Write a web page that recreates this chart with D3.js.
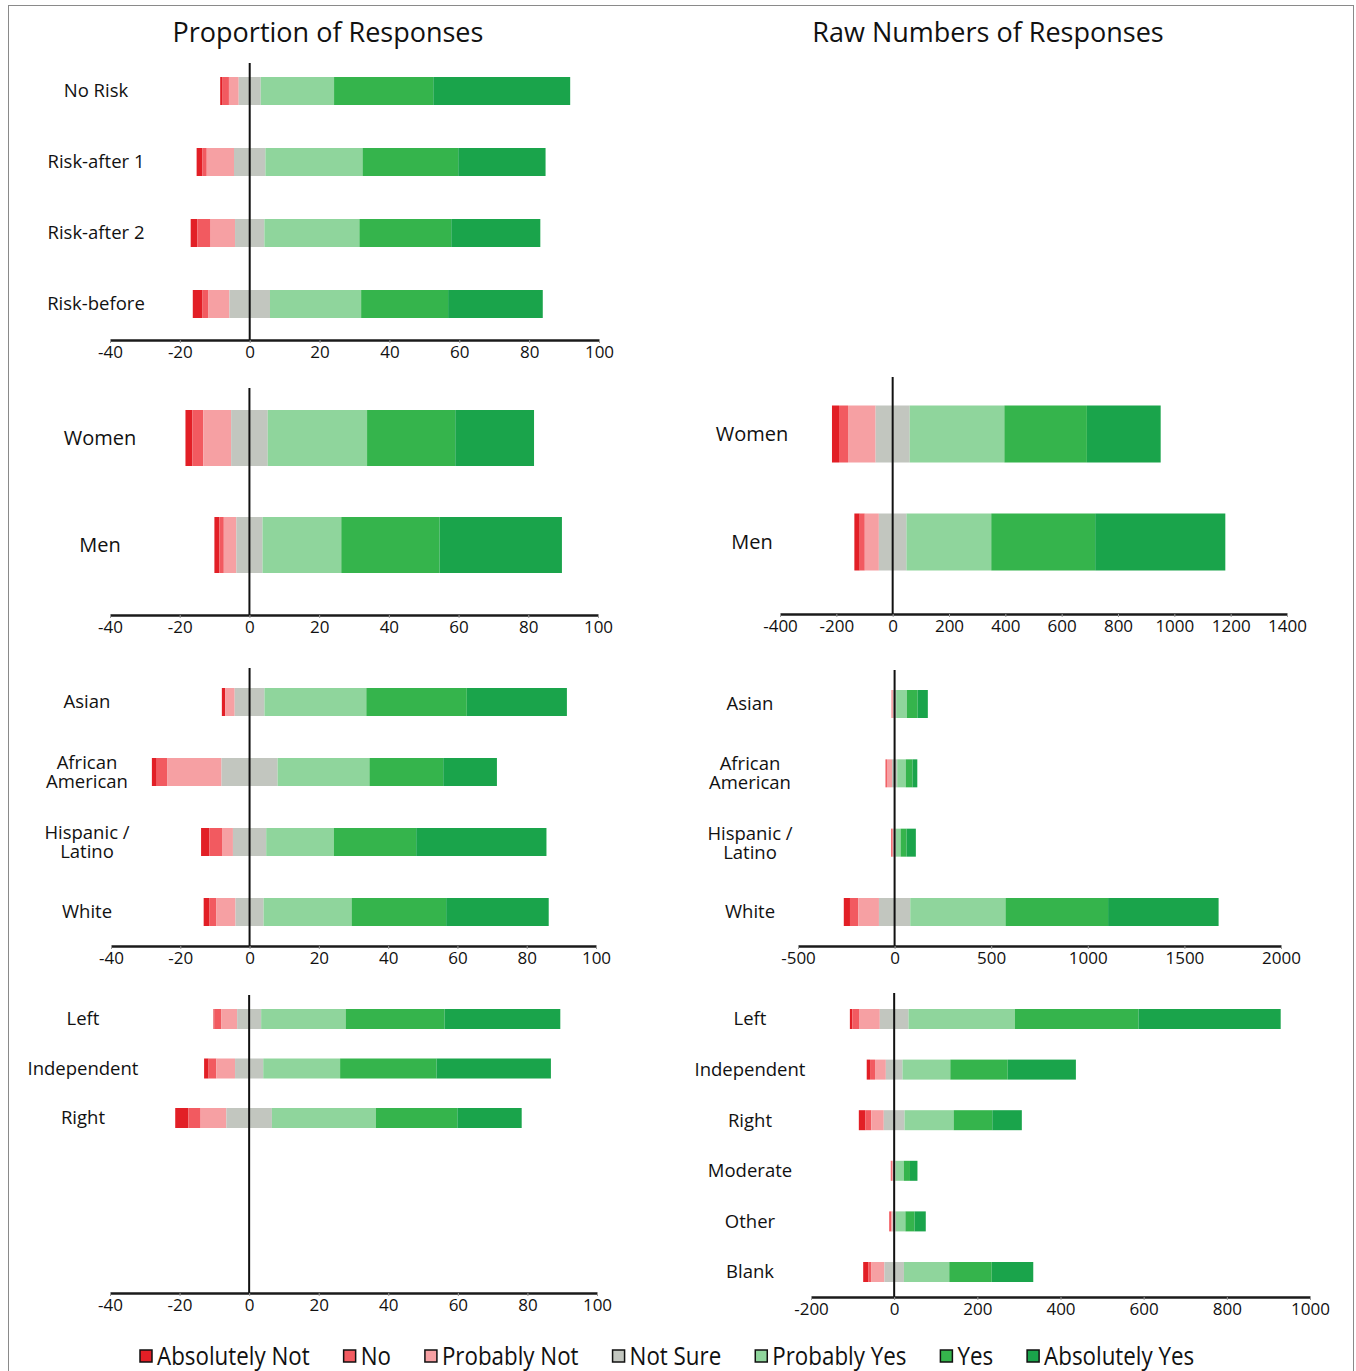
<!DOCTYPE html>
<html>
<head>
<meta charset="utf-8">
<script src="https://cdn.jsdelivr.net/npm/d3@7"></script>
<style>
	body { margin: 0; background: #fff; }
	text { font-family: "Open Sans", "DejaVu Sans", sans-serif; fill: #111; }
</style>
</head>
<body>
<div id="chart"></div>
<script>
// response levels, from most negative to most positive
const levels = ["Absolutely Not", "No", "Probably Not", "Not Sure", "Probably Yes", "Yes", "Absolutely Yes"];
const levelColors = ["#e21f26", "#f25a60", "#f6a0a3", "#c2c6bf", "#8fd59c", "#35b44c", "#1aa44b"];

// proportions (%)
const riskGroups = ["No Risk", "Risk-after 1", "Risk-after 2", "Risk-before"];
const riskPct = [
	[0.7, 1.8, 2.8, 6.3, 21.0, 28.4, 39.2],
	[1.6, 1.3, 7.8, 9.0, 27.8, 27.4, 25.0],
	[1.9, 3.8, 7.0, 8.4, 27.2, 26.3, 25.5],
	[2.8, 1.7, 6.0, 11.6, 26.1, 24.9, 27.1],
];
const genderGroups = ["Women", "Men"];
const genderPct = [
	[2.0, 3.1, 8.0, 10.5, 28.5, 25.3, 22.6],
	[1.4, 1.3, 3.6, 7.5, 22.6, 28.2, 35.1],
];
const raceGroups = ["Asian", "African\nAmerican", "Hispanic /\nLatino", "White"];
const racePct = [
	[1.0, 0.0, 2.7, 8.6, 29.4, 29.0, 28.9],
	[1.4, 3.1, 15.6, 16.2, 26.5, 21.3, 15.5],
	[2.4, 3.8, 3.0, 9.6, 19.5, 23.8, 37.6],
	[1.7, 1.9, 5.6, 8.1, 25.4, 27.3, 29.6],
];
const politicsPctGroups = ["Left", "Independent", "Right"];
const politicsPct = [
	[0.3, 1.9, 4.6, 6.9, 24.3, 28.4, 33.3],
	[1.3, 2.2, 5.4, 8.1, 22.1, 27.7, 32.9],
	[3.8, 3.5, 7.4, 13.1, 29.9, 23.4, 18.5],
];

// raw counts
const genderCounts = [
	[25, 32, 98, 121, 336, 293, 262],
	[19, 18, 50, 98, 301, 369, 462],
];
const raceCounts = [
	[2, 0, 5, 16, 56, 55, 53],
	[2, 5, 26, 27, 44, 35, 25],
	[3, 5, 4, 12, 25, 31, 48],
	[32, 43, 107, 162, 493, 531, 572],
];
const politicsGroups = ["Left", "Independent", "Right", "Moderate", "Other", "Blank"];
const politicsCounts = [
	[6, 16, 50, 69, 256, 297, 342],
	[8, 12, 26, 40, 115, 138, 164],
	[16, 14, 30, 50, 118, 93, 71],
	[1, 2, 2, 6, 20, 15, 18],
	[0, 5, 3, 8, 23, 22, 27],
	[12, 8, 31, 47, 109, 102, 100],
];

// tick labels
const pctTicks = [-40, -20, 0, 20, 40, 60, 80, 100];
const genderCountTicks = [-400, -200, 0, 200, 400, 600, 800, 1000, 1200, 1400];
const raceCountTicks = [-500, 0, 500, 1000, 1500, 2000];
const politicsCountTicks = [-200, 0, 200, 400, 600, 800, 1000];

const W = 1356, H = 1371;
const svg = d3.select("#chart").append("svg").attr("width", W).attr("height", H);

// outer frame
svg.append("rect").attr("x", 8.5).attr("y", 5.5).attr("width", 1345).attr("height", 1380)
	.attr("fill", "none").attr("stroke", "#8a8a8a").attr("stroke-width", 1);

// titles
svg.append("text").attr("x", 328).attr("y", 42).attr("text-anchor", "middle").style("font-size", "27px").text("Proportion of Responses");
svg.append("text").attr("x", 988).attr("y", 42).attr("text-anchor", "middle").style("font-size", "27px").text("Raw Numbers of Responses");

function drawPanel(p) {
	const g = svg.append("g");
	const x = d3.scaleLinear().domain(p.domain).range(p.xRange);
	const y = d3.scalePoint().domain(p.groups).range(p.yRange);

	// diverging stack: "Not Sure" straddles zero
	const rows = p.groups.map((name, i) => {
		const v = p.values[i];
		let start = -(v[0] + v[1] + v[2] + v[3] / 2);
		return v.map((val, k) => {
			const seg = { group: name, level: k, x0: start, x1: start + val };
			start += val;
			return seg;
		});
	});

	g.selectAll("g.row")
		.data(rows)
		.join("g")
		.attr("class", "row")
		.selectAll("rect")
		.data((d) => d.filter((s) => s.x1 > s.x0))
		.join("rect")
		.attr("x", (d) => x(d.x0))
		.attr("y", (d) => y(d.group) - p.barH / 2)
		.attr("width", (d) => x(d.x1) - x(d.x0))
		.attr("height", p.barH)
		.attr("fill", (d) => levelColors[d.level]);

	// zero line
	g.append("line")
		.attr("x1", x(0)).attr("x2", x(0))
		.attr("y1", p.lineTop).attr("y2", p.axisY)
		.attr("stroke", "#111").attr("stroke-width", 2);

	// x axis
	const ax = g.append("g")
		.attr("transform", `translate(0, ${p.axisY})`)
		.call(d3.axisBottom(x).tickValues(p.ticks).tickSize(3).tickSizeOuter(0).tickPadding(3).tickFormat((d) => String(d)));
	ax.select(".domain").attr("stroke", "#1a1a1a").attr("stroke-width", 2.5);
	ax.selectAll(".tick line").attr("stroke", "#999").attr("stroke-width", 1);
	ax.selectAll("text").style("font-size", "17px").style("font-family", "'Open Sans', sans-serif").attr("fill", "#111");

	// category labels
	p.groups.forEach((name) => {
		const lines = name.split("\n");
		const lh = 19;
		const t = g.append("text")
			.attr("x", p.labelX)
			.attr("text-anchor", "middle")
			.style("font-size", p.fontSize + "px");
		lines.forEach((ln, j) => {
			t.append("tspan")
				.attr("x", p.labelX)
				.attr("y", y(name) + (j - (lines.length - 1) / 2) * lh)
				.attr("dy", "0.35em")
				.text(ln);
		});
	});
}

// left column: proportions
drawPanel({ groups: riskGroups, values: riskPct, domain: [-40, 100], xRange: [110, 599], ticks: pctTicks,
	axisY: 340, lineTop: 63, yRange: [91, 304], barH: 28, labelX: 96, fontSize: 18.5 });
drawPanel({ groups: genderGroups, values: genderPct, domain: [-40, 100], xRange: [110, 598], ticks: pctTicks,
	axisY: 615, lineTop: 388, yRange: [438, 545], barH: 56, labelX: 100, fontSize: 20 });
drawPanel({ groups: raceGroups, values: racePct, domain: [-40, 100], xRange: [111, 596], ticks: pctTicks,
	axisY: 946, lineTop: 668, yRange: [702, 912], barH: 28, labelX: 87, fontSize: 18.5 });
drawPanel({ groups: politicsPctGroups, values: politicsPct, domain: [-40, 100], xRange: [110, 597], ticks: pctTicks,
	axisY: 1293, lineTop: 995, yRange: [1019, 1118], barH: 20, labelX: 83, fontSize: 18.5 });

// right column: raw numbers
drawPanel({ groups: genderGroups, values: genderCounts, domain: [-400, 1400], xRange: [780, 1287], ticks: genderCountTicks,
	axisY: 614, lineTop: 377, yRange: [434, 542], barH: 57, labelX: 752, fontSize: 20 });
drawPanel({ groups: raceGroups, values: raceCounts, domain: [-500, 2000], xRange: [798, 1281], ticks: raceCountTicks,
	axisY: 946, lineTop: 670, yRange: [704, 912], barH: 28, labelX: 750, fontSize: 18.5 });
drawPanel({ groups: politicsGroups, values: politicsCounts, domain: [-200, 1000], xRange: [811, 1310], ticks: politicsCountTicks,
	axisY: 1297, lineTop: 993, yRange: [1019, 1272], barH: 20, labelX: 750, fontSize: 18.5 });

// legend
const legend = svg.append("g").attr("transform", "translate(140, 1356)");
let lx = 0;
levels.forEach((name, i) => {
	legend.append("rect")
		.attr("x", lx).attr("y", -6).attr("width", 12).attr("height", 12)
		.attr("fill", levelColors[i]).attr("stroke", "#111").attr("stroke-width", 1.5);
	const t = legend.append("text")
		.attr("x", 0).attr("y", 0).attr("dy", "0.36em")
		.attr("transform", `translate(${lx + 17}, 0) scale(0.86, 1)`)
		.style("font-size", "26px")
		.text(name);
	const w = t.node().getComputedTextLength() * 0.86;
	lx += 17 + w + 34;
});
</script>
</body>
</html>
